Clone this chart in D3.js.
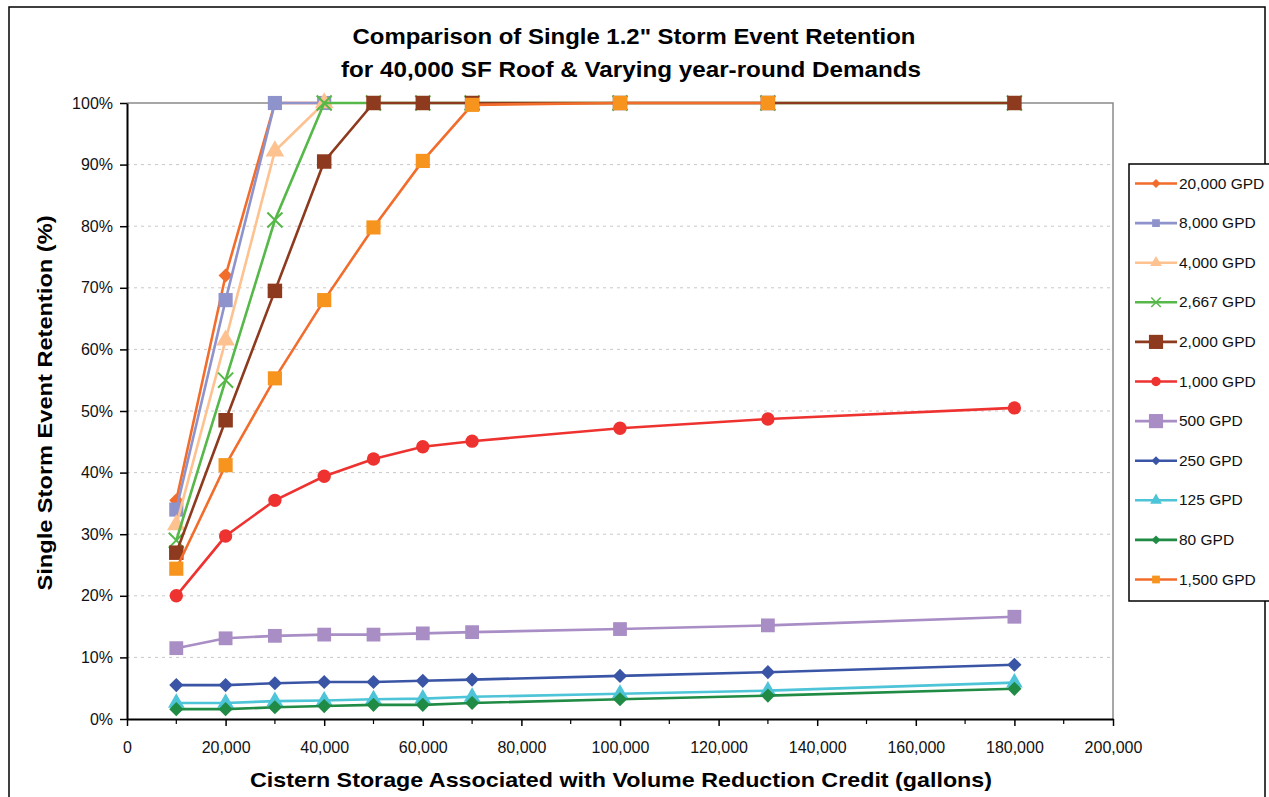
<!DOCTYPE html>
<html><head><meta charset="utf-8">
<script src="https://cdn.jsdelivr.net/npm/d3@7"></script>
<style>body{margin:0;background:#fff;} svg{display:block;font-family:"Liberation Sans",Arial,sans-serif;}</style>
</head><body>
<script>
const storage = [10000, 20000, 30000, 40000, 50000, 60000, 70000, 100000, 130000, 180000];
const seriesNames = ["20,000 GPD","8,000 GPD","4,000 GPD","2,667 GPD","2,000 GPD","1,000 GPD","500 GPD","250 GPD","125 GPD","80 GPD","1,500 GPD"];
const gpd20000 = [35.5, 72, 100, 100];
const gpd8000  = [34, 68, 100, 100];
const gpd4000  = [31.5, 61.5, 92.2, 100];
const gpd2667  = [29, 55, 81, 100, 100, 100, 100, 100, 100, 100];
const gpd2000  = [27, 48.5, 69.5, 90.5, 100, 100, 100, 100, 100, 100];
const gpd1000  = [20, 29.7, 35.5, 39.4, 42.2, 44.2, 45.1, 47.2, 48.7, 50.5];
const gpd500   = [11.5, 13.1, 13.5, 13.7, 13.7, 13.9, 14.1, 14.6, 15.2, 16.6];
const gpd250   = [5.5, 5.5, 5.8, 6.0, 6.0, 6.2, 6.4, 7.0, 7.6, 8.8];
const gpd125   = [2.6, 2.6, 2.9, 3.0, 3.2, 3.3, 3.6, 4.1, 4.6, 5.9];
const gpd80    = [1.6, 1.6, 1.9, 2.1, 2.3, 2.3, 2.6, 3.2, 3.8, 4.9];
const gpd1500  = [24.4, 41.2, 55.3, 68, 79.8, 90.6, 99.7, 100, 100];
const xTicks = [0,20000,40000,60000,80000,100000,120000,140000,160000,180000,200000];
const yTicks = [0,10,20,30,40,50,60,70,80,90,100];

const values = [gpd20000,gpd8000,gpd4000,gpd2667,gpd2000,gpd1000,gpd500,gpd250,gpd125,gpd80,gpd1500];
const styles = [
  {line:"#F26D2C", fill:"#F26D2C", shape:"diamond", size:100},
  {line:"#8F93CC", fill:"#8F93CC", shape:"square", size:200},
  {line:"#FDC290", fill:"#FDC290", shape:"triangle", size:150},
  {line:"#55B848", fill:"none", stroke:"#55B848", shape:"cross", size:150},
  {line:"#8E3A1E", fill:"#8E3A1E", shape:"square", size:210},
  {line:"#EE3230", fill:"#EE3230", shape:"circle", size:140},
  {line:"#A98DC5", fill:"#A98DC5", shape:"square", size:190},
  {line:"#3A55A5", fill:"#3A55A5", shape:"diamond", size:100},
  {line:"#4DC4D7", fill:"#4DC4D7", shape:"triangle", size:120},
  {line:"#1F8B45", fill:"#1F8B45", shape:"diamond", size:100},
  {line:"#F26D2C", fill:"#F7941D", shape:"square", size:200}
];
const legendSizes = [40, 60, 60, 60, 200, 70, 200, 40, 60, 40, 60];

const W=1269,H=797;
const svg=d3.select("body").append("svg").attr("width",W).attr("height",H);
svg.append("rect").attr("x",9).attr("y",7).attr("width",1256).attr("height",H+10).attr("fill","#fff").attr("stroke","#000").attr("stroke-width",1.5);

const L=127,R=1113,T=103,B=719;
const x=d3.scaleLinear().domain([0,200000]).range([L,R]);
const y=d3.scaleLinear().domain([0,100]).range([B,T]);

svg.append("g").selectAll("line").data(yTicks.filter(d=>d>0&&d<100)).join("line")
  .attr("x1",L).attr("x2",R).attr("y1",d=>y(d)).attr("y2",d=>y(d))
  .attr("stroke","#c8c8c8").attr("stroke-width",1).attr("stroke-dasharray","3,4");
svg.append("path").attr("d",`M${L},${T}H${R}V${B}`).attr("fill","none").attr("stroke","#8a8a8a").attr("stroke-width",1.5);

const xAxis=d3.axisBottom(x).tickValues(xTicks).tickFormat(d3.format(",")).tickSize(7).tickSizeOuter(0);
const gx=svg.append("g").attr("transform",`translate(0,${B})`).call(xAxis);
gx.select(".domain").attr("stroke","#000").attr("stroke-width",2);
gx.selectAll(".tick line").attr("stroke","#000").attr("stroke-width",1.5);
gx.selectAll("text").attr("font-size",16).attr("fill","#111").attr("y",23).attr("dy","0.71em").attr("font-family","Liberation Sans, Arial, sans-serif");
const minor=d3.range(10000,200000,20000);
svg.append("g").selectAll("line").data(minor).join("line")
  .attr("x1",d=>x(d)).attr("x2",d=>x(d)).attr("y1",B).attr("y2",B+5).attr("stroke","#000").attr("stroke-width",1.2);

const yAxis=d3.axisLeft(y).tickValues(yTicks).tickFormat(d=>d+"%").tickSize(7).tickSizeOuter(0);
const gy=svg.append("g").attr("transform",`translate(${L},0)`).call(yAxis);
gy.select(".domain").attr("stroke","#000").attr("stroke-width",2);
gy.selectAll(".tick line").attr("stroke","#000").attr("stroke-width",1.5);
gy.selectAll("text").attr("font-size",16).attr("fill","#111").attr("x",-14).attr("font-family","Liberation Sans, Arial, sans-serif");

function symPath(shape,size){
  if(shape==="diamond") return d3.symbol().type(d3.symbolSquare).size(size)();
  const t={square:d3.symbolSquare,triangle:d3.symbolTriangle,cross:d3.symbolX,circle:d3.symbolCircle}[shape];
  return d3.symbol().type(t).size(size)();
}
const line=d3.line().x(d=>x(d[0])).y(d=>y(d[1]));
values.forEach((vals,i)=>{
  const st=styles[i];
  const pts=vals.map((v,j)=>[storage[j],v]);
  const g=svg.append("g");
  g.append("path").datum(pts).attr("d",line).attr("fill","none").attr("stroke",st.line).attr("stroke-width",2.6);
  g.selectAll("path.m").data(pts).join("path").attr("class","m")
    .attr("transform",d=>`translate(${x(d[0])},${y(d[1])})${st.shape==="diamond"?" rotate(45)":""}`)
    .attr("d",symPath(st.shape,st.size))
    .attr("fill",st.fill).attr("stroke",st.stroke||"none").attr("stroke-width",st.stroke?2:0);
});

function bt(xp,yp,size,len,txt){
  return svg.append("text").attr("x",xp).attr("y",yp).attr("text-anchor","middle").attr("font-size",size).attr("font-weight","bold")
    .attr("textLength",len).attr("lengthAdjust","spacingAndGlyphs").text(txt);
}
bt(634,44,22,563,"Comparison of Single 1.2\" Storm Event Retention");
bt(631,77,22,580,"for 40,000 SF Roof & Varying year-round Demands");
bt(621,787,21,742,"Cistern Storage Associated with Volume Reduction Credit (gallons)");
svg.append("text").attr("transform","translate(52,403) rotate(-90)").attr("text-anchor","middle").attr("font-size",21).attr("font-weight","bold")
  .attr("textLength",375).attr("lengthAdjust","spacingAndGlyphs").text("Single Storm Event Retention (%)");

const lg=svg.append("g");
lg.append("rect").attr("x",1129).attr("y",164).attr("width",150).attr("height",437).attr("fill","#fff").attr("stroke","#000").attr("stroke-width",1.5);
seriesNames.forEach((n,i)=>{
  const st=styles[i];
  const yy=183.5+i*39.6;
  lg.append("line").attr("x1",1135).attr("x2",1177).attr("y1",yy).attr("y2",yy).attr("stroke",st.line).attr("stroke-width",2.6);
  lg.append("path").attr("transform",`translate(1156,${yy})${st.shape==="diamond"?" rotate(45)":""}`).attr("d",symPath(st.shape,legendSizes[i]))
    .attr("fill",st.fill).attr("stroke",st.stroke||"none").attr("stroke-width",st.stroke?1.5:0);
  lg.append("text").attr("x",1179).attr("y",yy+5).attr("font-size",15.5).attr("fill","#111").text(n);
});
</script>
</body></html>
